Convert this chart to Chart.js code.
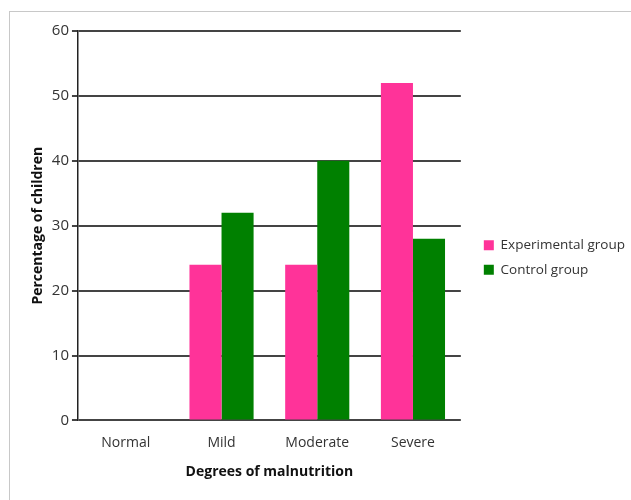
<!DOCTYPE html>
<html>
<head>
<meta charset="utf-8">
<script src="https://cdn.jsdelivr.net/npm/chart.js@4.4.0/dist/chart.umd.min.js"></script>
<style>
    html, body { margin: 0; padding: 0; background: #fff; }
    #wrap { width: 631px; height: 500px; position: relative; }
</style>
</head>
<body>
<div id="wrap"><canvas id="chart" width="631" height="500"></canvas></div>
<script>
const categories = ['Normal', 'Mild', 'Moderate', 'Severe'];
const experimental = [0, 24, 24, 52];
const control = [0, 32, 40, 28];
const seriesNames = ['Experimental group', 'Control group'];
const yTicks = [0, 10, 20, 30, 40, 50, 60];

const FONT = "'Open Sans', sans-serif";

// light grey frame around the picture
const framePlugin = {
    id: 'frame',
    beforeDraw(chart) {
        const ctx = chart.ctx;
        ctx.save();
        ctx.strokeStyle = '#c8c8c8';
        ctx.lineWidth = 1;
        ctx.strokeRect(9.5, 11.5, 700, 600);
        ctx.restore();
    }
};

function draw() {
    const ctx = document.getElementById('chart').getContext('2d');
    new Chart(ctx, {
        type: 'bar',
        data: {
            labels: categories,
            datasets: [
                { label: seriesNames[0], data: experimental, backgroundColor: '#ff3399' },
                { label: seriesNames[1], data: control, backgroundColor: '#008000' }
            ]
        },
        options: {
            responsive: false,
            animation: false,
            layout: { padding: { top: 31, left: 26, right: -4, bottom: 16 } },
            datasets: { bar: { categoryPercentage: 0.67, barPercentage: 1.0 } },
            plugins: {
                legend: {
                    position: 'right',
                    align: 'center',
                    maxWidth: 220,
                    labels: {
                        boxWidth: 10,
                        boxHeight: 10,
                        padding: 11,
                        color: '#333',
                        font: { family: FONT, size: 13.5 }
                    }
                },
                tooltip: { enabled: false }
            },
            scales: {
                x: {
                    grid: { display: false },
                    border: { display: false },
                    ticks: { color: '#333', font: { family: FONT, size: 14 }, padding: 6 },
                    title: {
                        display: true,
                        text: 'Degrees of malnutrition',
                        color: '#111',
                        font: { family: FONT, size: 14, weight: 'bold' },
                        padding: { top: 6 }
                    }
                },
                y: {
                    min: 0,
                    max: 60,
                    afterBuildTicks: axis => { axis.ticks = yTicks.map(v => ({ value: v })); },
                    grid: { color: '#444', lineWidth: 2, tickLength: 6, tickColor: '#444' },
                    border: { display: true, color: '#222', width: 1.5 },
                    ticks: { color: '#333', font: { family: FONT, size: 15 }, padding: 3 },
                    title: {
                        display: true,
                        text: 'Percentage of children',
                        color: '#111',
                        font: { family: FONT, size: 14, weight: 'bold' },
                        padding: { bottom: 2 }
                    }
                },
                // empty right axis, only keeps a gap between the plot and the legend
                gap: {
                    type: 'linear',
                    position: 'right',
                    grid: { display: false },
                    border: { display: false },
                    ticks: { display: false },
                    afterFit: axis => { axis.width = 12; }
                }
            }
        },
        plugins: [framePlugin]
    });
}

Promise.all([
    document.fonts.load("14px 'Open Sans'"),
    document.fonts.load("bold 14px 'Open Sans'")
]).then(draw, draw);
</script>
</body>
</html>
